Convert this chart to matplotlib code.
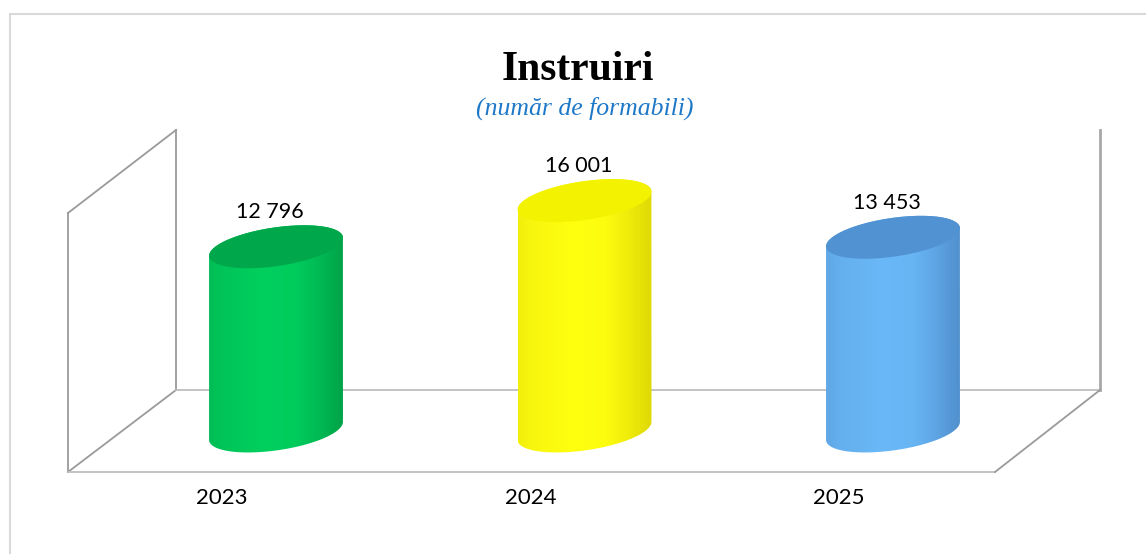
import numpy as np
import matplotlib.pyplot as plt
from matplotlib.path import Path
from matplotlib.patches import PathPatch, Polygon

# data
years = ['2023', '2024', '2025']
values = [12796, 16001, 13453]
value_labels = ['12 796', '16 001', '13 453']

body_light = ['#00CF5E', '#FFFF10', '#6AB8F7']
body_dark = ['#00913F', '#D2C800', '#467FBD']
top_colors = ['#00A74B', '#F3F200', '#5192D2']

W, H = 1146, 554
fig = plt.figure(figsize=(W / 100, H / 100), dpi=100)

# background layer in pixel coords for the chart area border and 3d frame
bg = fig.add_axes([0, 0, 1, 1])
bg.set_xlim(0, W)
bg.set_ylim(H, 0)
bg.axis('off')
bg.plot([10, W], [14, 14], color='#D9D9D9', lw=1.5)
bg.plot([10, 10], [14, H], color='#D9D9D9', lw=1.5)

wall = '#9A9A9A'
floor = '#BEBEBE'
bg.plot([68, 68], [213, 472], color=wall, lw=1.3)
bg.plot([176, 176], [130, 390], color=wall, lw=1.3)
bg.plot([68, 176], [213, 130], color=wall, lw=1.3)
bg.plot([68, 176], [472, 390], color=wall, lw=1.3)
bg.plot([1100, 1100], [130, 390], color='#A8A8A8', lw=2)
bg.plot([176, 1100], [390, 390], color=floor, lw=1.3)
bg.plot([68, 995], [472, 472], color=floor, lw=1.3)
bg.plot([995, 1100], [472, 390], color=wall, lw=1.3)

# main axes: x = category index, y = value
ax = fig.add_axes([0, 0, 1, 1])
ax.patch.set_alpha(0)
ax.axis('off')
ax.set_xlim(-0.8947, 2.8201)
ax.set_ylim(-8542, 29931)

a = 0.217     # cylinder half width (category units)
b = 1354      # ellipse half height (value units)
tilt = 625    # right side sits higher


def ellipse_pts(cx, cy, t):
    return cx + a * np.cos(t), cy + b * np.sin(t) + tilt * np.cos(t)


def mix(c1, c2, d):
    c1 = np.array(plt.matplotlib.colors.to_rgb(c1))
    c2 = np.array(plt.matplotlib.colors.to_rgb(c2))
    return c1 * (1 - d) + c2 * d


for i, v in enumerate(values):
    cx = i
    t_bot = np.linspace(np.pi, 2 * np.pi, 80)
    t_top = np.linspace(0, np.pi, 80)
    bx, by = ellipse_pts(cx, 0, t_bot)
    tx, ty = ellipse_pts(cx, v, t_top)
    verts = np.vstack([np.column_stack([bx, by]), np.column_stack([tx, ty])])
    verts = np.vstack([verts, verts[:1]])
    body = PathPatch(Path(verts), facecolor='none', edgecolor='none')
    ax.add_patch(body)

    u = np.linspace(0, 1, 200)
    d = np.interp(u, [0, 0.08, 0.4, 0.65, 0.8, 0.92, 1], [0.3, 0.18, 0.0, 0.05, 0.3, 0.55, 0.7])
    grad = np.array([mix(body_light[i], body_dark[i], x) for x in d])[None, :, :]
    im = ax.imshow(grad, extent=[cx - a, cx + a, -b - tilt - 200, v + b + tilt + 200],
                   aspect='auto', interpolation='bilinear', zorder=2)
    im.set_clip_path(body)

    tt = np.linspace(0, 2 * np.pi, 160)
    ex, ey = ellipse_pts(cx, v, tt)
    ax.add_patch(Polygon(np.column_stack([ex, ey]), closed=True,
                         facecolor=top_colors[i], edgecolor='none', zorder=3))

    ax.text(cx - 0.02, v + 2400, value_labels[i], ha='center', va='center',
            fontsize=15.5, family='Lato', color='black', zorder=4)
    ax.text(cx - 0.175, -4650, years[i], ha='center', va='center',
            fontsize=16, family='Lato', color='black')

fig.text(578 / W, 1 - 70 / H, 'Instruiri', ha='center', va='center',
         fontsize=30, fontweight='bold', family='Liberation Serif')
fig.text(585 / W, 1 - 108 / H, '(număr de formabili)', ha='center', va='center',
         fontsize=18.5, style='italic', family='Liberation Serif', color='#1E78C8')

fig.savefig('out.png', dpi=100)
